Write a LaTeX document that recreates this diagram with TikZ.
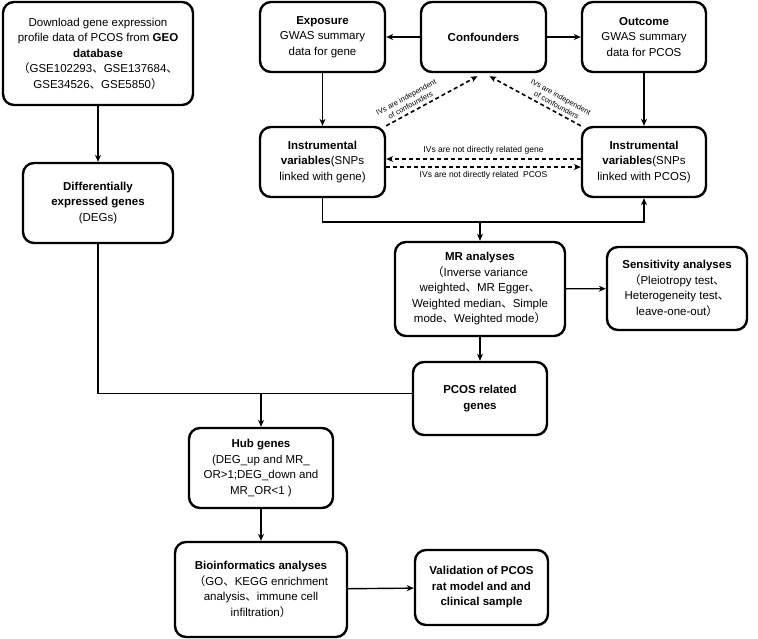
\documentclass[tikz,border=0pt]{standalone}
\usepackage{fontspec}
\setmainfont{Liberation Sans}
\newfontfamily\cjk{Noto Sans CJK SC}
\usetikzlibrary{arrows.meta,calc,positioning}
\newcommand{\dun}{{\cjk 、}}
\newcommand{\lpar}{{\cjk （}}
\newcommand{\rpar}{{\cjk ）}}

\begin{document}
\begin{tikzpicture}[x=1pt,y=-1pt,font=\fontsize{11.5}{15.5}\selectfont]

\tikzstyle{box}=[draw,line width=2.4pt,rounded corners=11pt,align=center,inner sep=2pt]
\tikzstyle{conn}=[line width=1.4pt,-{Stealth[length=7pt,width=6pt]}]
\tikzstyle{plain}=[line width=1.4pt]
\tikzstyle{dasharrow}=[line width=1.6pt,dash pattern=on 4pt off 3pt,-{Stealth[length=7pt,width=6pt]}]
\tikzstyle{note}=[font=\fontsize{8.5}{9.5}\selectfont,inner sep=1pt]
\tikzstyle{snote}=[font=\fontsize{7.5}{9}\selectfont,align=center,inner sep=1pt]

\useasboundingbox (0,0) rectangle (758,638);

% Dane GEO

\node (geo) [box,minimum width=190pt,minimum height=103pt] at (98,53.5) {Download gene expression\\profile data of PCOS from \textbf{GEO}\\\textbf{database}\\\lpar GSE102293\dun GSE137684\dun\\GSE34526\dun GSE5850\rpar};

\node (deg) [box,minimum width=150pt,minimum height=80pt] at (98,203) {\textbf{Differentially}\\\textbf{expressed genes}\\(DEGs)};

% GWAS

\node (expo) [box,minimum width=125pt,minimum height=70pt] at (322.5,37) {\textbf{Exposure}\\GWAS summary\\data for gene};
\node (conf) [box,minimum width=125pt,minimum height=70pt] at (483.5,37) {\textbf{Confounders}};
\node (outc) [box,minimum width=124pt,minimum height=70pt] at (644,37) {\textbf{Outcome}\\GWAS summary\\data for PCOS};

% Zmienne instrumentalne

\node (ivg) [box,minimum width=125pt,minimum height=70pt] at (322.5,162) {\textbf{Instrumental}\\\textbf{variables}(SNPs\\linked with gene)};
\node (ivp) [box,minimum width=124pt,minimum height=70pt] at (644,162) {\textbf{Instrumental}\\\textbf{variables}(SNPs\\linked with PCOS)};

% Analizy MR

\node (mr) [box,minimum width=170pt,minimum height=94pt] at (480,289) {\textbf{MR analyses}\\\lpar Inverse variance\\weighted\dun MR Egger\dun\\Weighted median\dun Simple\\mode\dun Weighted mode\rpar};
\node (sens) [box,minimum width=140pt,minimum height=83pt] at (677,288.5) {\textbf{Sensitivity analyses}\\\lpar Pleiotropy test\dun\\Heterogeneity test\dun\\leave-one-out\rpar};

\node (pcos) [box,minimum width=134pt,minimum height=73pt] at (480,398.5) {\textbf{PCOS related}\\\textbf{genes}};

% Geny hub

\node (hub) [box,minimum width=144pt,minimum height=80pt] at (261,468) {\textbf{Hub genes}\\(DEG\_up and MR\_\\OR>1;DEG\_down and\\MR\_OR<1 )};
\node (bio) [box,minimum width=172pt,minimum height=95pt] at (261,589.5) {\textbf{Bioinformatics analyses}\\\lpar GO\dun KEGG enrichment\\analysis\dun immune cell\\infiltration\rpar};
\node (valid) [box,minimum width=133pt,minimum height=75pt] at (481.5,587.5) {\textbf{Validation of PCOS}\\\textbf{rat model and and}\\\textbf{clinical sample}};

% Strzałki

\draw [conn] (geo) -- (deg);
\draw [conn] (conf) -- (expo);
\draw [conn] (conf) -- (outc);
\draw [conn] (expo) -- (ivg);
\draw [conn] (outc) -- (ivp);

\coordinate (join) at (480,222);
\draw [plain] (ivg.south) -- (ivg.south |- join) -- (join);
\draw [conn] (join) -- (ivp.south |- join) -- (ivp.south);
\draw [conn] (join) -- (mr.north);
\draw [conn] (mr) -- (sens);
\draw [conn] (mr) -- (pcos);

\coordinate (split) at ([yshift=5pt]pcos.west);
\draw [plain] (deg.south) -- (deg.south |- split) -- (split);
\draw [conn] (hub.north |- split) -- (hub.north);
\draw [conn] (hub) -- (bio);
\draw [conn] (bio) -- (valid);

% Założenia IV

\coordinate (cfl) at ([xshift=-6pt]conf.south);
\coordinate (cfr) at ([xshift=6pt]conf.south);
\draw [dasharrow] (ivg.north east) -- ([yshift=-3pt]cfl) node[snote,pos=0.3,sloped,above=2pt] {IVs are independent\\of confounders};
\draw [dasharrow] (ivp.north west) -- ([yshift=-3pt]cfr) node[snote,pos=0.3,sloped,above=2pt] {IVs are independent\\of confounders};

\draw [dasharrow] ([yshift=3pt]ivp.west) -- ([yshift=3pt]ivg.east) node[note,midway,above=3pt] {IVs are not directly related gene};
\draw [dasharrow] ([yshift=-5pt]ivg.east) -- ([yshift=-5pt]ivp.west) node[note,midway,below=3pt] {IVs are not directly related\ \ PCOS};

\end{tikzpicture}
\end{document}
